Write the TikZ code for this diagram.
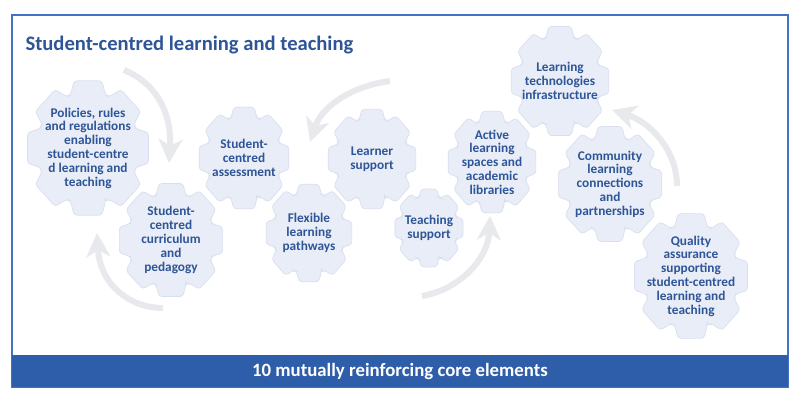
\documentclass[tikz,border=0pt]{standalone}
\usepackage{fontspec}
\setmainfont{Carlito}
\usetikzlibrary{arrows.meta}
\definecolor{gearfill}{HTML}{E9EDF7}
\definecolor{gearline}{HTML}{D8DFEE}
\definecolor{txtblue}{HTML}{2E5597}
\definecolor{framecol}{HTML}{4472C4}
\definecolor{barcol}{HTML}{2E5DA9}
\definecolor{arrowcol}{HTML}{E8E9ED}
\tikzset{
  gearshape/.style={fill=gearfill, draw=gearline, line width=0.7pt, rounded corners=3pt},
  gtext/.style={text=txtblue, font=\bfseries\fontsize{13.3}{13.8}\selectfont, align=center, inner sep=0pt},
  cyclearrow/.style={draw=arrowcol, line width=6pt, -{Stealth[width=24pt,length=24pt,inset=7pt]}},
}
% #1 name, #2 x, #3 y, #4 rx, #5 ry, #6 text
\newcommand\Gear[6]{%
  \path[gearshape] ({#2+#4*0.82*cos(70)},{#3+#5*0.82*sin(70)})
    \foreach \k in {0,...,7}{
      -- ({#2+#4*0.82*cos(70+45*\k)},{#3+#5*0.82*sin(70+45*\k)})
      -- ({#2+#4*cos(77+45*\k)},{#3+#5*sin(77+45*\k)})
      -- ({#2+#4*cos(103+45*\k)},{#3+#5*sin(103+45*\k)})
      -- ({#2+#4*0.82*cos(110+45*\k)},{#3+#5*0.82*sin(110+45*\k)})
    } -- cycle;
  \node[gtext] (#1) at (#2,#3) {#6};
}
\begin{document}
\begin{tikzpicture}[x=1pt,y=-1pt]
\useasboundingbox[fill=white] (0,0) rectangle (800,404);
% frame
\draw[framecol, line width=1.5pt] (12,15) rectangle (788,387);
\fill[barcol] (12,355) rectangle (788,387);
\node[text=white, font=\bfseries\fontsize{18.8}{20}\selectfont] (bar) at (400,371) {10 mutually reinforcing core elements};
\node[text=txtblue, font=\bfseries\fontsize{20.6}{22}\selectfont, anchor=west] (title) at (22,45) {Student-centred learning and teaching};
% arrows
\coordinate (a1s) at (124,70); \coordinate (a1e) at (169,163);
\coordinate (a2s) at (390,81); \coordinate (a2e) at (310,142);
\coordinate (a3s) at (163,308); \coordinate (a3e) at (97,233);
\coordinate (a4s) at (422,296); \coordinate (a4e) at (490,216);
\coordinate (a5s) at (677,186); \coordinate (a5e) at (612,110);
\draw[cyclearrow] (a1s) .. controls (158,84) and (172,115) .. (a1e);
\draw[cyclearrow] (a2s) .. controls (352,86) and (322,106) .. (a2e);
\draw[cyclearrow] (a3s) .. controls (130,308) and (100,285) .. (a3e);
\draw[cyclearrow] (a4s) .. controls (458,290) and (488,260) .. (a4e);
\draw[cyclearrow] (a5s) .. controls (677,150) and (650,122) .. (a5e);
% gears
\Gear{policies}{88}{148}{62}{69}{Policies, rules\\and regulations\\enabling\\student-centre\\d learning and\\teaching}
\Gear{assess}{244}{158}{46}{52}{Student-\\centred\\assessment}
\Gear{learner}{372}{159}{45}{51}{Learner\\support}
\Gear{curric}{171}{240}{53}{58}{Student-\\centred\\curriculum\\and\\pedagogy}
\Gear{flex}{309}{233}{44}{50}{Flexible\\learning\\pathways}
\Gear{active}{492}{162}{45}{52}{Active\\learning\\spaces and\\academic\\libraries}
\Gear{teach}{429}{228}{35}{40}{Teaching\\support}
\Gear{tech}{560}{81}{50}{56}{Learning\\technologies\\infrastructure}
\Gear{community}{610}{184}{53}{59}{Community\\learning\\connections\\and\\partnerships}
\Gear{quality}{691}{276}{58}{64}{Quality\\assurance\\supporting\\student-centred\\learning and\\teaching}
\end{tikzpicture}
\end{document}
